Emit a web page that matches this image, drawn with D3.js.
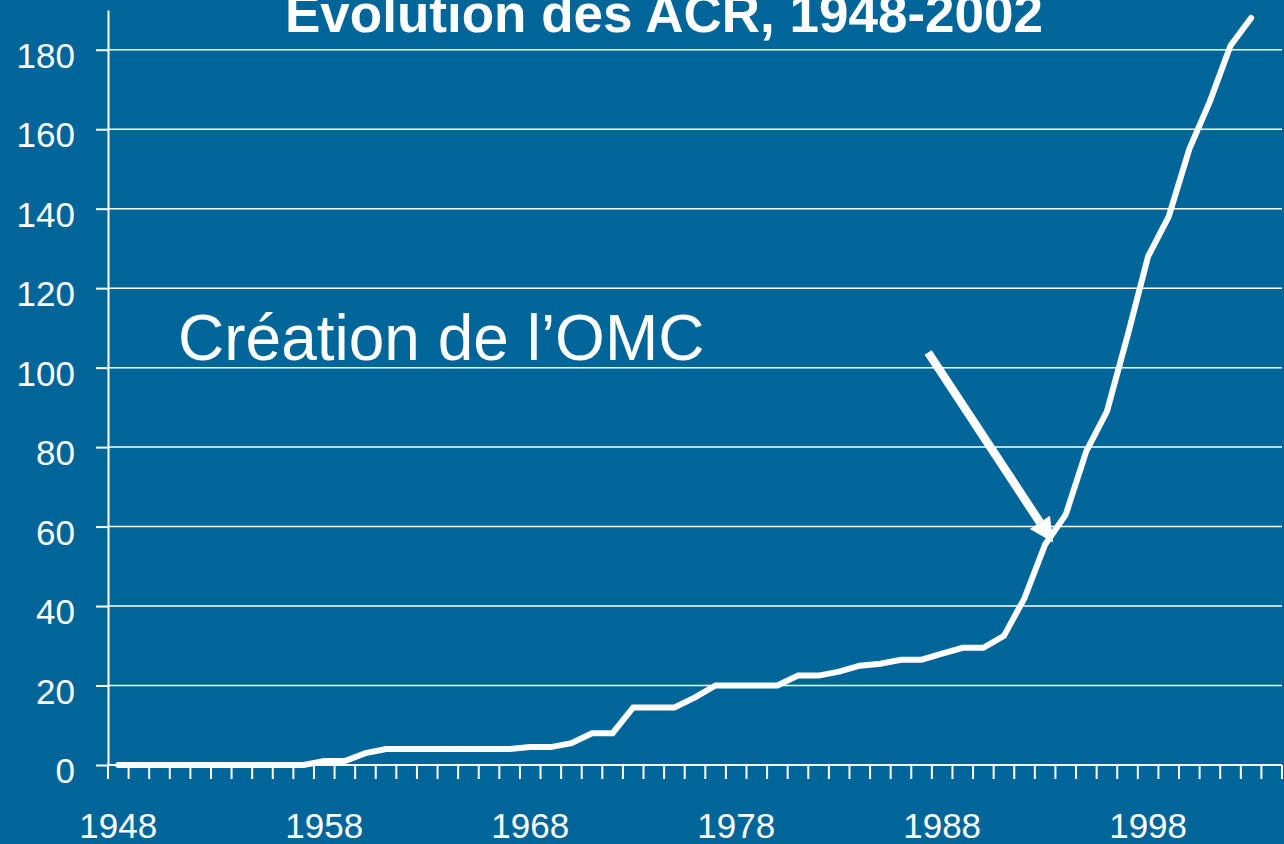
<!DOCTYPE html>
<html lang="fr">
<head>
<meta charset="utf-8">
<title>Evolution des ACR, 1948-2002</title>
<script src="https://cdn.jsdelivr.net/npm/d3@7"></script>
<style>
  html, body { margin: 0; padding: 0; background: #006699; }
  svg { display: block; font-family: "Liberation Sans", Arial, sans-serif; }
  .grid line { stroke: #fff; stroke-width: 1.5; }
  .axis path, .axis line { stroke: #fff; stroke-width: 2; }
  .axis text { fill: #fff; font-size: 35px; font-family: "Liberation Sans", Arial, sans-serif; }
</style>
</head>
<body>
<svg id="chart" width="1284" height="844"></svg>
<script>
// categories (one per year on the x axis)
const years = [
  1948, 1949, 1950, 1951, 1952, 1953, 1954, 1955, 1956, 1957,
  1958, 1959, 1960, 1961, 1962, 1963, 1964, 1965, 1966, 1967,
  1968, 1969, 1970, 1971, 1972, 1973, 1974, 1975, 1976, 1977,
  1978, 1979, 1980, 1981, 1982, 1983, 1984, 1985, 1986, 1987,
  1988, 1989, 1990, 1991, 1992, 1993, 1994, 1995, 1996, 1997,
  1998, 1999, 2000, 2001, 2002, 2003, 2004
];

// number of ACR in force
const acrCounts = [
  0, 0, 0, 0, 0, 0, 0, 0, 0, 0,
  1, 1, 3, 4, 4, 4, 4, 4, 4, 4,
  4.5, 4.5, 5.5, 8, 8, 14.5, 14.5, 14.5, 17, 20,
  20, 20, 20, 22.5, 22.5, 23.5, 25, 25.5, 26.5, 26.5,
  28, 29.5, 29.5, 32.5, 42, 55.5, 63, 79, 89, 108,
  128, 138, 155, 167, 181, 188, null
];

const xLabels = ['1948', '1958', '1968', '1978', '1988', '1998'];
const yTicks = [0, 20, 40, 60, 80, 100, 120, 140, 160, 180];

const title = 'Evolution des ACR, 1948-2002';
const note = { text: 'Création de l\u2019OMC', year: 1993, value: 56 };

const svg = d3.select('#chart');

const x = d3.scaleBand().domain(years).range([108, 1282]);
const y = d3.scaleLinear().domain([0, 190]).range([765, 10]);
const bw = x.bandwidth();
const cx = (yr) => x(yr) + bw / 2;

// horizontal gridlines
svg.append('g')
  .attr('class', 'grid')
  .selectAll('line')
  .data(yTicks.filter((d) => d > 0))
  .join('line')
  .attr('x1', x.range()[0])
  .attr('x2', x.range()[1])
  .attr('y1', (d) => y(d))
  .attr('y2', (d) => y(d));

// y axis
const yAxis = svg.append('g')
  .attr('class', 'axis')
  .attr('transform', `translate(${x.range()[0]},0)`)
  .call(d3.axisLeft(y).tickValues(yTicks).tickSize(12).tickSizeOuter(0).tickPadding(21));
yAxis.attr('font-family', null).attr('font-size', null);
yAxis.selectAll('text').attr('dy', '0.5em');

// x axis: baseline, tick marks on category boundaries, labels centred in bands
const xAxis = svg.append('g').attr('class', 'axis');

xAxis.append('line')
  .attr('x1', x.range()[0])
  .attr('x2', x.range()[1])
  .attr('y1', y(0))
  .attr('y2', y(0));

xAxis.selectAll('line.tick')
  .data(years.map((d) => x(d)).concat([x.range()[1]]))
  .join('line')
  .attr('class', 'tick')
  .attr('x1', (d) => d)
  .attr('x2', (d) => d)
  .attr('y1', y(0))
  .attr('y2', y(0) + 14);

xAxis.selectAll('text')
  .data(xLabels)
  .join('text')
  .attr('x', (d) => cx(+d))
  .attr('y', y(0) + 73)
  .attr('text-anchor', 'middle')
  .text((d) => d);

// the series
const points = years.map((yr, i) => ({ year: yr, value: acrCounts[i] }));

const line = d3.line()
  .defined((d) => d.value != null)
  .x((d) => cx(d.year))
  .y((d) => y(d.value));

svg.append('path')
  .datum(points)
  .attr('d', line)
  .attr('fill', 'none')
  .attr('stroke', '#fff')
  .attr('stroke-width', 6)
  .attr('stroke-linejoin', 'miter')
  .attr('stroke-linecap', 'round');

// title (cut by the top edge as in the slide)
svg.append('text')
  .attr('x', 664)
  .attr('y', 32)
  .attr('text-anchor', 'middle')
  .attr('fill', '#fff')
  .attr('font-size', 53)
  .attr('font-weight', 'bold')
  .text(title);

// annotation
svg.append('text')
  .attr('x', 178)
  .attr('y', 360)
  .attr('fill', '#fff')
  .attr('font-size', 64)
  .text(note.text);

const tip = [cx(note.year) + 8, y(note.value)];
const start = [tip[0] - 125, tip[1] - 190];
const len = Math.hypot(tip[0] - start[0], tip[1] - start[1]);
const ux = (tip[0] - start[0]) / len;
const uy = (tip[1] - start[1]) / len;
const back = [tip[0] - 24 * ux, tip[1] - 24 * uy];

svg.append('line')
  .attr('x1', start[0])
  .attr('y1', start[1])
  .attr('x2', back[0])
  .attr('y2', back[1])
  .attr('stroke', '#fff')
  .attr('stroke-width', 8.5);

svg.append('path')
  .attr('d', d3.line()([
    tip,
    [back[0] - 12 * uy, back[1] + 12 * ux],
    [back[0] + 12 * uy, back[1] - 12 * ux]
  ]) + 'Z')
  .attr('fill', '#fff');
</script>
</body>
</html>
